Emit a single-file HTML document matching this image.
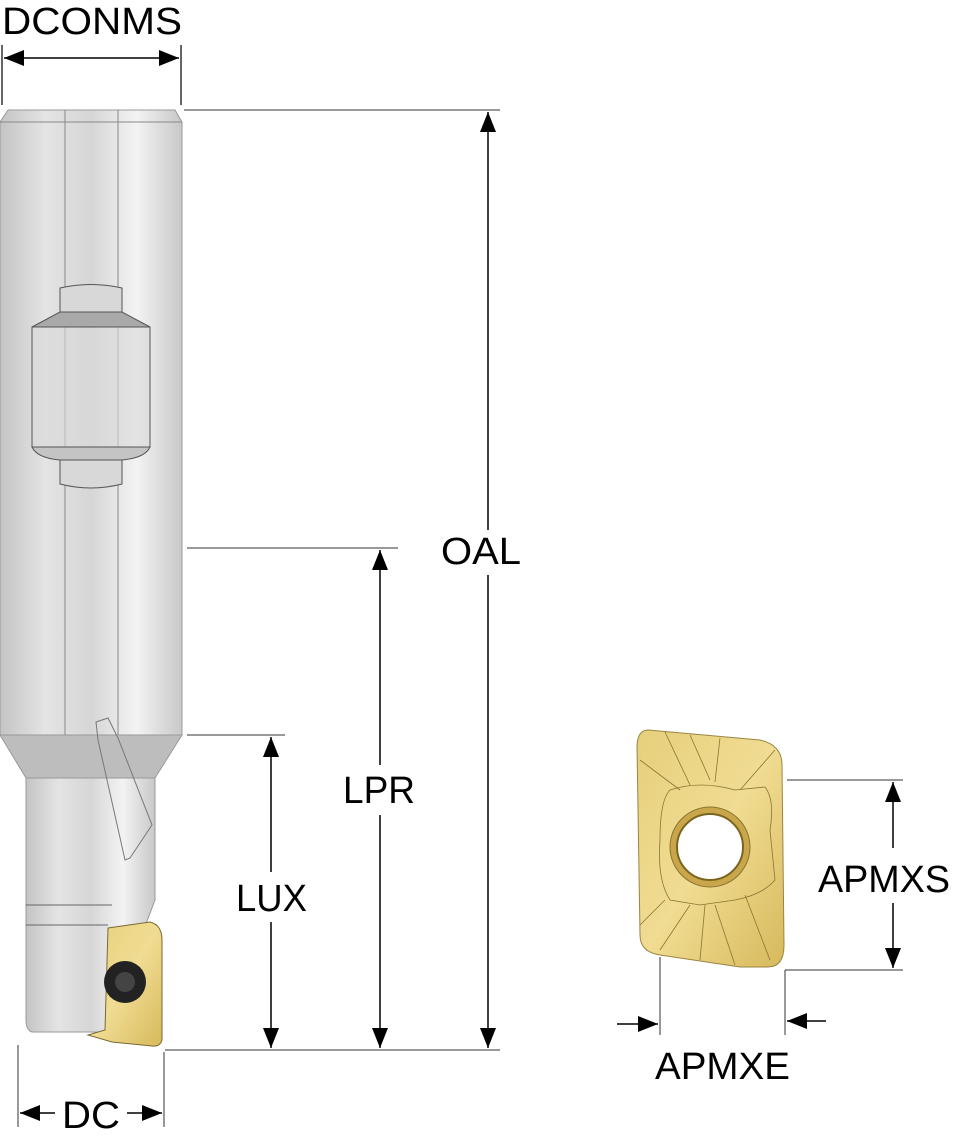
<!DOCTYPE html>
<html><head><meta charset="utf-8"><style>
html,body{margin:0;padding:0;background:#fff;}
svg{display:block}
text{font-family:"Liberation Sans",sans-serif;font-size:38px;fill:#000}
</style></head><body>
<svg width="953" height="1139" viewBox="0 0 953 1139" xmlns="http://www.w3.org/2000/svg">
<defs>
<linearGradient id="sh" x1="0" x2="1" y1="0" y2="0">
<stop offset="0" stop-color="#c4c4c4"/><stop offset="0.25" stop-color="#e4e4e4"/><stop offset="0.5" stop-color="#d6d6d6"/><stop offset="0.75" stop-color="#f3f3f3"/><stop offset="1" stop-color="#c8c8c8"/>
</linearGradient>
<linearGradient id="gd" x1="0" x2="1" y1="0" y2="1">
<stop offset="0" stop-color="#e6cf7c"/><stop offset="0.5" stop-color="#f0dc92"/><stop offset="1" stop-color="#d7b95c"/>
</linearGradient>
<marker id="ar" viewBox="0 0 10 10" refX="10" refY="5" markerWidth="20" markerHeight="16" markerUnits="userSpaceOnUse" orient="auto-start-reverse" preserveAspectRatio="none"><path d="M0,0 L10,5 L0,10 z" fill="#000"/></marker>
</defs>
<path d="M8,110 L175,110 L182,122 L182,735 L0,735 L0,122 Z" fill="url(#sh)" stroke="#999" stroke-width="1"/>
<line x1="0" y1="122" x2="182" y2="122" stroke="#888"/>
<line x1="65" y1="110" x2="65" y2="735" stroke="#888"/>
<line x1="118" y1="110" x2="118" y2="735" stroke="#888"/>
<path d="M60,288 Q91,281 122,288 L122,312 L60,312 Z" fill="#d8d8d8" stroke="#555"/>
<path d="M60,312 L122,312 L150,327 L32,327 Z" fill="#a9a9a9" stroke="#555"/>
<rect x="32" y="327" width="118" height="120" fill="#d9d9d9" fill-opacity="0.6" stroke="#555"/>
<path d="M32,447 L150,447 Q145,458 122,460 L60,460 Q37,458 32,447 Z" fill="#c4c4c4" stroke="#555"/>
<path d="M60,460 L122,460 L122,484 Q91,492 60,484 Z" fill="#d8d8d8" stroke="#555"/>
<path d="M0,735 L182,735 L155,778 L26,778 Z" fill="#bdbdbd" stroke="#999"/>
<path d="M26,778 L155,778 L155,900 L105,1032 L32,1032 Q26,1030 26,1020 Z" fill="url(#sh)" stroke="#999"/>
<line x1="26" y1="905" x2="112" y2="905" stroke="#666"/>
<line x1="26" y1="925" x2="108" y2="925" stroke="#666"/>
<path d="M96,722 L108,718 L118,738 L152,825 L130,858 L125,860 L98,740 Z" fill="none" stroke="#777"/>
<path d="M108,928 L150,922 Q162,925 162,940 L162,1040 Q160,1047 152,1046 L112,1042 L88,1035 L105,1030 Z" fill="url(#gd)" stroke="#7a6a30"/>
<circle cx="125" cy="982" r="21" fill="#222"/>
<circle cx="125" cy="982" r="10" fill="#444"/>
<path d="M648,730 L760,740 Q782,745 782,765 L784,945 Q784,967 768,967 L740,967 L660,955 Q640,952 640,935 L637,745 Q638,730 648,730 Z" fill="url(#gd)" stroke="#9a8540"/>
<path d="M670,790 Q700,780 735,790 L765,787 Q775,800 770,830 L775,880 Q762,895 735,900 L700,905 L670,900 Q657,880 660,840 Q660,800 670,790 Z" fill="none" stroke="#8a7530" stroke-width="0.8"/>
<path d="M640,760 L680,790 M665,732 L690,785 M690,735 L710,780 M720,738 L715,782 M775,750 L740,790 M660,950 L690,905 M700,960 L705,905 M735,965 L715,905 M770,960 L745,895 M640,925 L665,900" stroke="#8a7530" stroke-width="0.8"/>
<circle cx="710" cy="847" r="40" fill="#c9a64a" stroke="#8a7530"/>
<circle cx="710" cy="847" r="33" fill="#fff" stroke="#7a6520" stroke-width="2"/>
<g stroke="#000" stroke-width="1.5" fill="none">
<line x1="2" y1="45" x2="2" y2="105" stroke="#333"/>
<line x1="181" y1="45" x2="181" y2="105" stroke="#333"/>
<line x1="4" y1="58" x2="179" y2="58" marker-start="url(#ar)" marker-end="url(#ar)"/>
<line x1="184" y1="110" x2="500" y2="110" stroke="#333" stroke-width="1"/>
<line x1="488" y1="112" x2="488" y2="530" marker-start="url(#ar)"/>
<line x1="488" y1="575" x2="488" y2="1048" marker-end="url(#ar)"/>
<line x1="187" y1="548" x2="398" y2="548" stroke="#333" stroke-width="1"/>
<line x1="380" y1="550" x2="380" y2="765" marker-start="url(#ar)"/>
<line x1="380" y1="815" x2="380" y2="1048" marker-end="url(#ar)"/>
<line x1="187" y1="735" x2="285" y2="735" stroke="#333" stroke-width="1"/>
<line x1="271" y1="737" x2="271" y2="872" marker-start="url(#ar)"/>
<line x1="271" y1="922" x2="271" y2="1048" marker-end="url(#ar)"/>
<line x1="165" y1="1050" x2="500" y2="1050" stroke="#333" stroke-width="1"/>
<line x1="18" y1="1045" x2="18" y2="1127" stroke="#333" stroke-width="1"/>
<line x1="164" y1="1052" x2="164" y2="1127" stroke="#333" stroke-width="1"/>
<line x1="55" y1="1113" x2="20" y2="1113" marker-end="url(#ar)"/>
<line x1="127" y1="1113" x2="162" y2="1113" marker-end="url(#ar)"/>
<line x1="787" y1="780" x2="903" y2="780" stroke="#333" stroke-width="1"/>
<line x1="785" y1="970" x2="903" y2="970" stroke="#333" stroke-width="1"/>
<line x1="785" y1="970" x2="785" y2="1035" stroke="#333" stroke-width="1"/>
<line x1="660" y1="957" x2="660" y2="1035" stroke="#333" stroke-width="1"/>
<line x1="893" y1="782" x2="893" y2="848" marker-start="url(#ar)"/>
<line x1="893" y1="903" x2="893" y2="968" marker-end="url(#ar)"/>
<line x1="617" y1="1024" x2="658" y2="1024" marker-end="url(#ar)"/>
<line x1="826" y1="1021" x2="787" y2="1021" marker-end="url(#ar)"/>
</g>
<text x="2" y="34" textLength="180" lengthAdjust="spacingAndGlyphs">DCONMS</text>
<text x="441" y="564" textLength="80" lengthAdjust="spacingAndGlyphs">OAL</text>
<text x="343" y="803" textLength="72" lengthAdjust="spacingAndGlyphs">LPR</text>
<text x="236" y="911" textLength="71" lengthAdjust="spacingAndGlyphs">LUX</text>
<text x="62" y="1128" textLength="58" lengthAdjust="spacingAndGlyphs">DC</text>
<text x="818" y="892" textLength="132" lengthAdjust="spacingAndGlyphs">APMXS</text>
<text x="655" y="1079" textLength="135" lengthAdjust="spacingAndGlyphs">APMXE</text>
</svg>
</body></html>
